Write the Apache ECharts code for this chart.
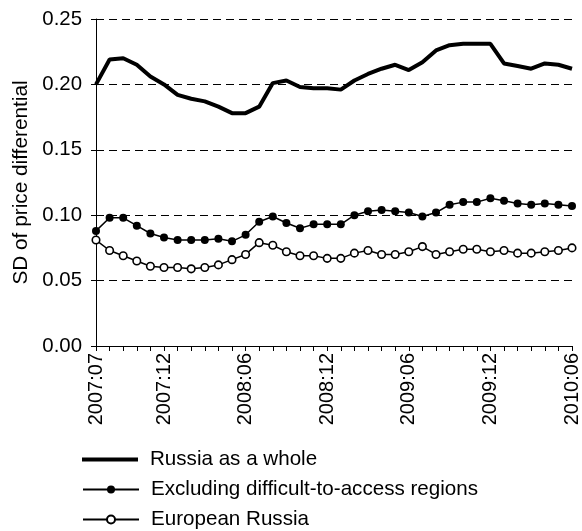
<!DOCTYPE html>
<html>
<head>
<meta charset="utf-8">
<script src="https://cdn.jsdelivr.net/npm/echarts@6/dist/echarts.min.js"></script>
<style>html,body{margin:0;padding:0;background:#fff}#c{width:582px;height:531px}</style>
</head>
<body>
<div id="c"></div>
<script>
const categories = [
  "2007:07","2007:08","2007:09","2007:10","2007:11","2007:12",
  "2008:01","2008:02","2008:03","2008:04","2008:05","2008:06",
  "2008:07","2008:08","2008:09","2008:10","2008:11","2008:12",
  "2009:01","2009:02","2009:03","2009:04","2009:05","2009:06",
  "2009:07","2009:08","2009:09","2009:10","2009:11","2009:12",
  "2010:01","2010:02","2010:03","2010:04","2010:05","2010:06"
];
const labelIndices = [0, 5, 11, 17, 23, 29, 35];
const russiaWhole = [
  0.200,0.219,0.220,0.215,0.206,0.200,0.192,0.189,0.187,0.183,0.178,0.178,
  0.183,0.201,0.203,0.198,0.197,0.197,0.196,0.203,0.208,0.212,0.215,0.211,
  0.217,0.226,0.230,0.231,0.231,0.231,0.216,0.214,0.212,0.216,0.215,0.212
];
const excludingDifficult = [
  0.088,0.098,0.098,0.092,0.086,0.083,0.081,0.081,0.081,0.082,0.080,0.085,
  0.095,0.099,0.094,0.090,0.093,0.093,0.093,0.100,0.103,0.104,0.103,0.102,
  0.099,0.102,0.108,0.110,0.110,0.113,0.111,0.109,0.108,0.109,0.108,0.107
];
const europeanRussia = [
  0.081,0.073,0.069,0.065,0.061,0.060,0.060,0.059,0.060,0.062,0.066,0.070,
  0.079,0.077,0.072,0.069,0.069,0.067,0.067,0.071,0.073,0.070,0.070,0.072,
  0.076,0.070,0.072,0.074,0.074,0.072,0.073,0.071,0.071,0.072,0.073,0.075
];
const seriesNames = ["Russia as a whole","Excluding difficult-to-access regions","European Russia"];
const yTicks = { min: 0, max: 0.25, interval: 0.05 };

const FONT = "Liberation Sans, Arial, sans-serif";
const legendTops = [449, 479, 509];
function makeLegend(i, extra) {
  return Object.assign({
    orient: 'vertical',
    left: 82,
    top: legendTops[i],
    padding: 0,
    itemWidth: 56,
    itemHeight: 10,
    itemGap: 0,
    textStyle: { fontFamily: FONT, fontSize: 20.6, color: '#000', padding: [0, 0, 0, 7] },
    data: [seriesNames[i]]
  }, extra || {});
}
const chart = echarts.init(document.getElementById('c'), null, {renderer: 'canvas'});
chart.setOption({
  animation: false,
  backgroundColor: '#fff',
  textStyle: { fontFamily: FONT, color: '#000' },
  grid: { left: 96, right: 10, top: 19, bottom: 185, containLabel: false },
  legend: [
    makeLegend(0, { itemHeight: 4, data: [{ name: seriesNames[0], icon: 'rect', itemStyle: { color: '#000' } }] }),
    makeLegend(1),
    makeLegend(2)
  ],
  xAxis: {
    type: 'category',
    data: categories,
    boundaryGap: false,
    axisLine: { lineStyle: { color: '#000', width: 1 } },
    axisTick: { show: true, interval: 0, length: 5, lineStyle: { color: '#000' } },
    axisLabel: {
      rotate: 90,
      margin: 7,
      fontSize: 20,
      fontFamily: FONT,
      color: '#000',
      interval: function (idx) { return labelIndices.indexOf(idx) >= 0; }
    },
    splitLine: { show: false }
  },
  yAxis: {
    type: 'value',
    min: yTicks.min,
    max: yTicks.max,
    interval: yTicks.interval,
    name: 'SD of price differential',
    nameLocation: 'middle',
    nameGap: 63,
    nameTextStyle: { fontSize: 20.8, fontFamily: FONT, color: '#000' },
    axisLine: { show: true, lineStyle: { color: '#000', width: 1 } },
    axisTick: { show: true, length: 5, lineStyle: { color: '#000' } },
    axisLabel: {
      fontSize: 20.4, fontFamily: FONT, color: '#000', margin: 14,
      formatter: function (v) { return v.toFixed(2); }
    },
    splitLine: { show: true, lineStyle: { color: '#000', width: 1, type: [8, 5] } }
  },
  series: [
    {
      name: seriesNames[0], type: 'line', data: russiaWhole,
      symbol: 'none', showSymbol: false,
      lineStyle: { color: '#000', width: 4 },
      itemStyle: { color: '#000' }
    },
    {
      name: seriesNames[1], type: 'line', data: excludingDifficult,
      symbol: 'circle', symbolSize: 8,
      lineStyle: { color: '#000', width: 1.5 },
      itemStyle: { color: '#000', borderColor: '#000', borderWidth: 0 }
    },
    {
      name: seriesNames[2], type: 'line', data: europeanRussia,
      symbol: 'circle', symbolSize: 7.5,
      lineStyle: { color: '#000', width: 1.5 },
      itemStyle: { color: '#fff', borderColor: '#000', borderWidth: 1.6 }
    }
  ]
});
</script>
</body>
</html>
